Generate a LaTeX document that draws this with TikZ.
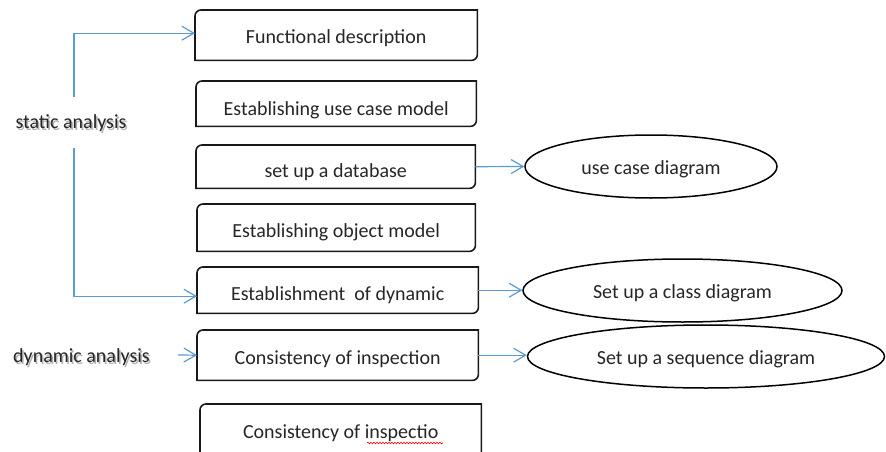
\documentclass[tikz,border=0pt]{standalone}
\usepackage{fontspec}
\setmainfont{Carlito}
\usepackage{tikz}
\usetikzlibrary{shapes, arrows.meta, positioning, decorations.pathmorphing}
\definecolor{lineblue}{RGB}{91,155,213}
\newcommand{\bigtext}{\fontsize{20}{24}\selectfont}
\tikzstyle{rnode} = [anchor=north west, inner sep = 0pt, font=\bigtext, text=black!85]
\tikzstyle{enode} = [ellipse, draw, line width=1.5pt, inner sep = 0pt, minimum height=63pt, text height=15pt, text depth=0pt, font=\bigtext, text=black!85]
\tikzstyle{lnode} = [anchor=base, inner sep = 0pt, font=\bigtext, text=black!85]
\tikzstyle{snode} = [anchor=base, inner sep = 0pt, font=\bigtext, text=black!30]
\tikzstyle{rim} = [draw, line width=1.6pt, black!90]
\tikzstyle{line} = [draw, lineblue, line width=1.2pt, -{Straight Barb[length=12pt, width=14pt]}]

\begin{document}
\begin{tikzpicture}[x=1pt, y=-1pt]
			\useasboundingbox (0,0) rectangle (886,452);
			
			% left labels
			\node [snode] (sashadow) at (72.5,130) {static analysis};
			\node [lnode] (sa) at (71,128) {static analysis};
			\node [snode] (dashadow) at (83,364) {dynamic analysis};
			\node [lnode] (da) at (81.5,362) {dynamic analysis};
			\coordinate (satop) at (74,97);
			\coordinate (sabot) at (74,148);
			\coordinate (daend) at (178,355);
			
			% boxes
			\node [rnode, minimum width=282pt, text height=33pt, text depth=17pt] (fd) at (195,10) {Functional description};
			\node [rnode, minimum width=280pt, text height=34pt, text depth=11pt] (uc) at (196,81) {Establishing use case model};
			\node [rnode, minimum width=279pt, text height=32pt, text depth=11pt] (db) at (196,145) {set up a database};
			\node [rnode, minimum width=278pt, text height=33pt, text depth=14pt] (om) at (197,204) {Establishing object model};
			\node [rnode, minimum width=281pt, text height=33pt, text depth=13pt] (dm) at (197,267) {Establishment~ of dynamic};
			\node [rnode, minimum width=281pt, text height=34pt, text depth=16pt] (ci) at (197,330) {Consistency of inspection};
			\node [rnode, minimum width=281pt, text height=34pt, text depth=20pt] (cx) at (200,404) {Consistency of inspectio};
			
			\foreach \b in {fd,uc,db,om,dm,ci,cx}
				\draw [rim] (\b.north east) -- ([yshift=6pt]\b.south east) arc [start angle=0, end angle=-90, radius=6pt] -- (\b.south west) -- ([yshift=-6pt]\b.north west) arc [start angle=180, end angle=90, radius=6pt] -- cycle;
			
			\draw [red, line width=0.6pt, decorate, decoration={snake, amplitude=0.8pt, segment length=3pt}] (367,443) -- (443,443);
			
			% ellipses
			\node [enode, minimum width=252pt] (e1) at (651,166.5) {use case diagram};
			\node [enode, minimum width=319pt] (e2) at (682.5,290.5) {Set up a class diagram};
			\node [enode, minimum width=357pt] (e3) at (706,356.5) {Set up a sequence diagram};
			
			% arrows
			\path [line] (satop) |- ([yshift=2pt]fd.west);
			\path [line] (sabot) |- ([yshift=-6pt]dm.west);
			\path [line] (daend) -- (ci.west);
			\path [line] (db.east) -- (e1.west);
			\path [line] (dm.east) -- (dm.east -| e2.west);
			\path [line] (ci.east) -- (ci.east -| e3.west);
		\end{tikzpicture}
\end{document}
